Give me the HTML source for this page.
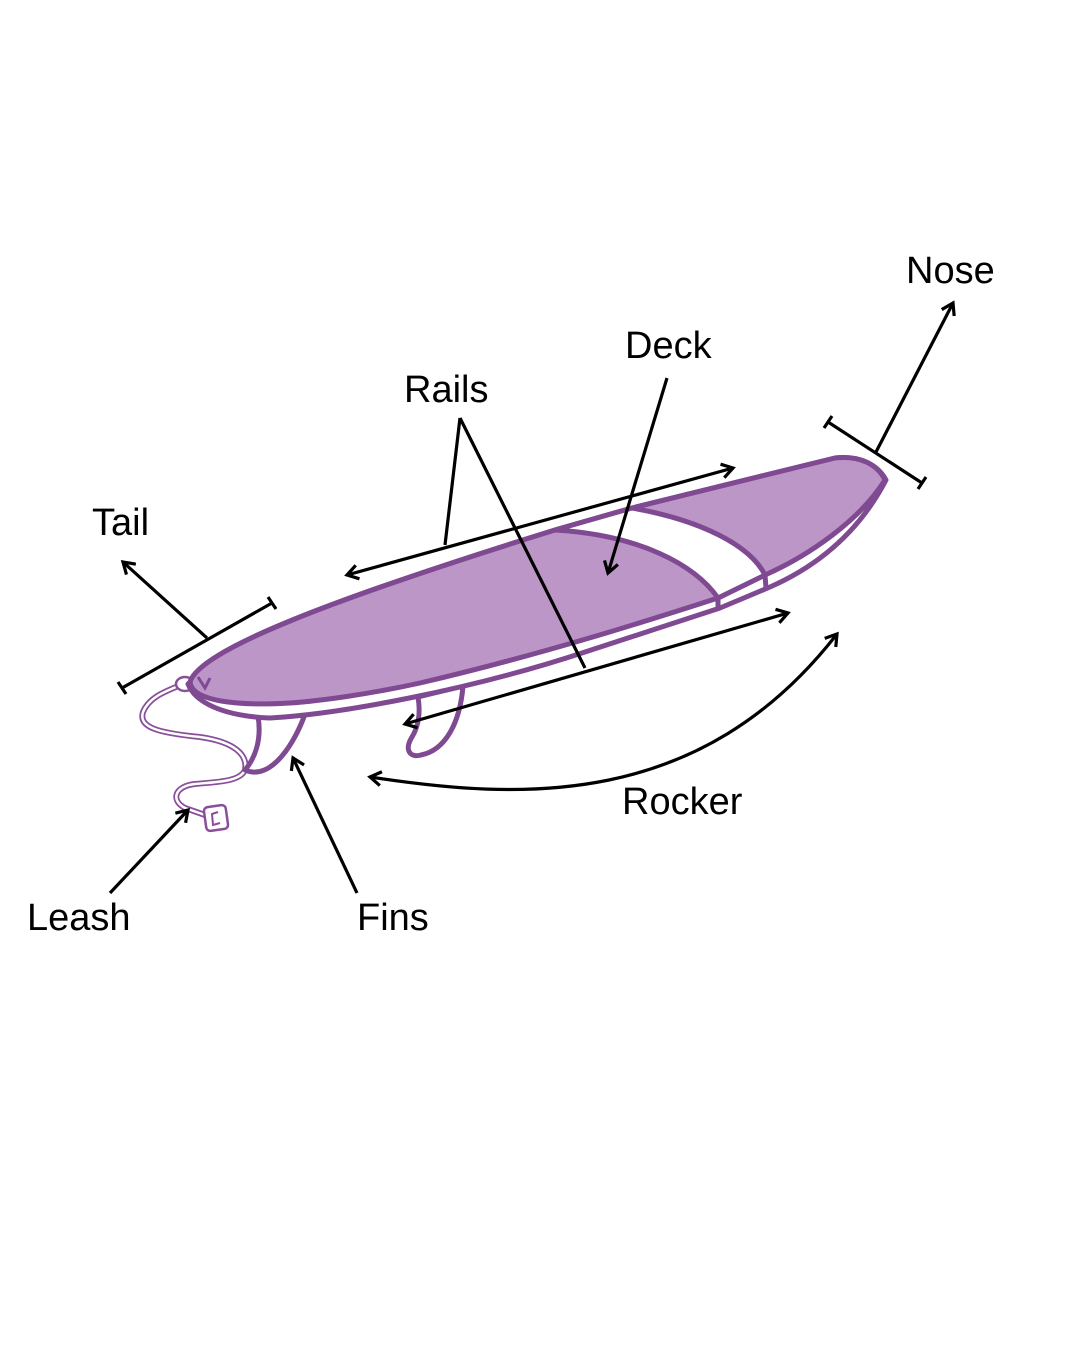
<!DOCTYPE html>
<html><head><meta charset="utf-8"><style>
html,body{margin:0;padding:0;background:#fff;}
svg{display:block;}
text{font-family:"Liberation Sans",sans-serif;font-size:38px;fill:#000;}
</style></head><body>
<svg width="1080" height="1350" viewBox="0 0 1080 1350" xmlns="http://www.w3.org/2000/svg">
<defs>
<marker id="ah" markerWidth="20" markerHeight="20" refX="13" refY="9" orient="auto-start-reverse" markerUnits="userSpaceOnUse">
<path d="M2,2 L13,9 L2,16" fill="none" stroke="#000" stroke-width="3.2"/>
</marker>
</defs>
<!-- leash -->
<g fill="none" stroke="#8a4f9a">
<path d="M188,682 C170,690 150,695 143,712 C138,728 160,733 200,737 C235,742 248,755 245,770 C240,782 215,782 195,784 C175,786 170,800 185,808 L205,815" stroke-width="6"/>
<path d="M188,682 C170,690 150,695 143,712 C138,728 160,733 200,737 C235,742 248,755 245,770 C240,782 215,782 195,784 C175,786 170,800 185,808 L205,815" stroke="#fff" stroke-width="2.5"/>
<ellipse cx="185" cy="684" rx="9" ry="7" stroke-width="2.5" fill="#fff"/>
<rect x="205" y="806" width="22" height="24" rx="4" stroke-width="2.5" fill="#fff" transform="rotate(-8 216 818)"/>
<path d="M218,812 L212,814 L213,825 L220,823" stroke-width="2"/>
</g>
<!-- fins -->
<g fill="#fff" stroke="#7f4a92" stroke-width="5" stroke-linejoin="round">
<path d="M258,716 C262,740 255,758 245,770 C272,782 296,740 305,714 Z"/>
<path d="M418,697 C421,715 418,727 412,737 C404,750 410,758 421,755 C446,750 460,722 463,686 Z"/>
</g>
<!-- rail / board body -->
<path d="M188,684 C195,702 222,716 270,718 C340,714 470,690 585,652 L720,608 L770,587 C820,565 860,530 886,480 C878,465 860,455 835,458 L632,508 L555,530 C330,600 200,650 190,682 Z" fill="#fff" stroke="#7f4a92" stroke-width="5" stroke-linejoin="round"/>
<!-- deck -->
<path d="M190,682 C200,650 330,600 555,530 L632,508 L835,458 C860,455 878,465 885,480 C860,520 810,555 765,575 L718,598 C650,620 540,655 420,683 C370,694 320,701 290,703 C240,706 192,702 190,682 Z" fill="#bd96c8" stroke="#7f4a92" stroke-width="5" stroke-linejoin="round"/>
<!-- white stripe -->
<path d="M555,530 L632,508 C700,520 750,545 765,575 L718,598 C695,565 640,535 555,530 Z" fill="#fff" stroke="#7f4a92" stroke-width="5" stroke-linejoin="round"/>
<path d="M718,598 L718,610 M765,575 L766,588" stroke="#7f4a92" stroke-width="5"/>
<path d="M198,677 L205,688 L210,678" stroke="#7f4a92" stroke-width="3" fill="none"/>
<!-- annotations -->
<g stroke="#000" stroke-width="3.2" fill="none">
<path d="M828,422 L922,483 M824,428 L832,416 M918,489 L926,477"/>
<path d="M876,452 L953,303" marker-end="url(#ah)"/>
<path d="M122,688 L272,603 M118,682 L126,694 M268,597 L276,609"/>
<path d="M207,638 L123,562" marker-end="url(#ah)"/>
<path d="M460,418 L445,545 M460,418 L585,668"/>
<path d="M347,575 L733,468" marker-start="url(#ah)" marker-end="url(#ah)"/>
<path d="M405,724 L788,613" marker-start="url(#ah)" marker-end="url(#ah)"/>
<path d="M667,378 L608,573" marker-end="url(#ah)"/>
<path d="M357,893 L293,758" marker-end="url(#ah)"/>
<path d="M110,893 L188,810" marker-end="url(#ah)"/>
<path d="M370,777 C520,800 700,810 837,634" marker-start="url(#ah)" marker-end="url(#ah)"/>
</g>
<text x="906" y="283">Nose</text>
<text x="625" y="358">Deck</text>
<text x="404" y="402">Rails</text>
<text x="92" y="535">Tail</text>
<text x="622" y="814">Rocker</text>
<text x="27" y="930">Leash</text>
<text x="357" y="930">Fins</text>
</svg>
</body></html>
